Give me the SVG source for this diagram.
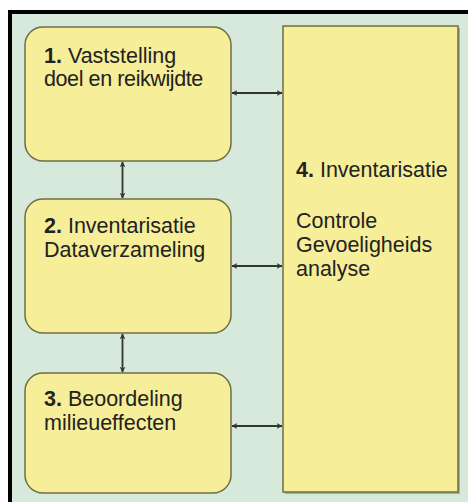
<svg xmlns="http://www.w3.org/2000/svg" width="468" height="502" viewBox="0 0 468 502">
<style>
.bx{fill:#f6ee98;stroke:#6e6e46;stroke-width:1.5}
.t{font-family:"Liberation Sans",Arial,sans-serif;font-size:21.5px;fill:#222}
.b{font-weight:bold}
.c{stroke:#333;stroke-width:1.8;fill:none;marker-start:url(#a);marker-end:url(#a)}
</style>
<defs>
<marker id="a" viewBox="0 0 10 10" refX="9" refY="5" markerWidth="6" markerHeight="6" orient="auto-start-reverse" markerUnits="userSpaceOnUse">
<path d="M0,0 L10,5 L0,10 L3,5 Z" fill="#333"/>
</marker>
</defs>
<rect x="0" y="0" width="468" height="502" fill="#ffffff"/>
<rect x="10" y="12" width="470" height="500" fill="#d6e9da" stroke="#000" stroke-width="4"/>
<g id="connectors">
<line class="c" x1="122.5" y1="162" x2="122.5" y2="198"/>
<line class="c" x1="122.5" y1="334" x2="122.5" y2="372"/>
<line class="c" x1="232" y1="93" x2="282" y2="93"/>
<line class="c" x1="232" y1="266" x2="282" y2="266"/>
<line class="c" x1="232" y1="426" x2="282" y2="426"/>
</g>
<g id="node1">
<rect class="bx" x="25" y="27" width="206" height="134" rx="18"/>
<text class="t" x="44" y="63"><tspan class="b">1.</tspan> Vaststelling</text>
<text class="t" x="44" y="86" letter-spacing="-0.4">doel en reikwijdte</text>
</g>
<g id="node2">
<rect class="bx" x="25" y="199" width="206" height="134" rx="18"/>
<text class="t" x="44" y="233"><tspan class="b">2.</tspan> Inventarisatie</text>
<text class="t" x="44" y="257">Dataverzameling</text>
</g>
<g id="node3">
<rect class="bx" x="25" y="373" width="206" height="120" rx="18"/>
<text class="t" x="44" y="406"><tspan class="b">3.</tspan> Beoordeling</text>
<text class="t" x="44" y="430">milieueffecten</text>
</g>
<g id="node4">
<rect x="285" y="28" width="175" height="466" fill="#8a8a60" opacity="0.6"/>
<rect class="bx" x="283" y="26" width="175" height="466"/>
<text class="t" x="296" y="177"><tspan class="b">4.</tspan> Inventarisatie</text>
<text class="t" x="296" y="228">Controle</text>
<text class="t" x="296" y="252">Gevoeligheids</text>
<text class="t" x="296" y="276">analyse</text>
</g>
</svg>
